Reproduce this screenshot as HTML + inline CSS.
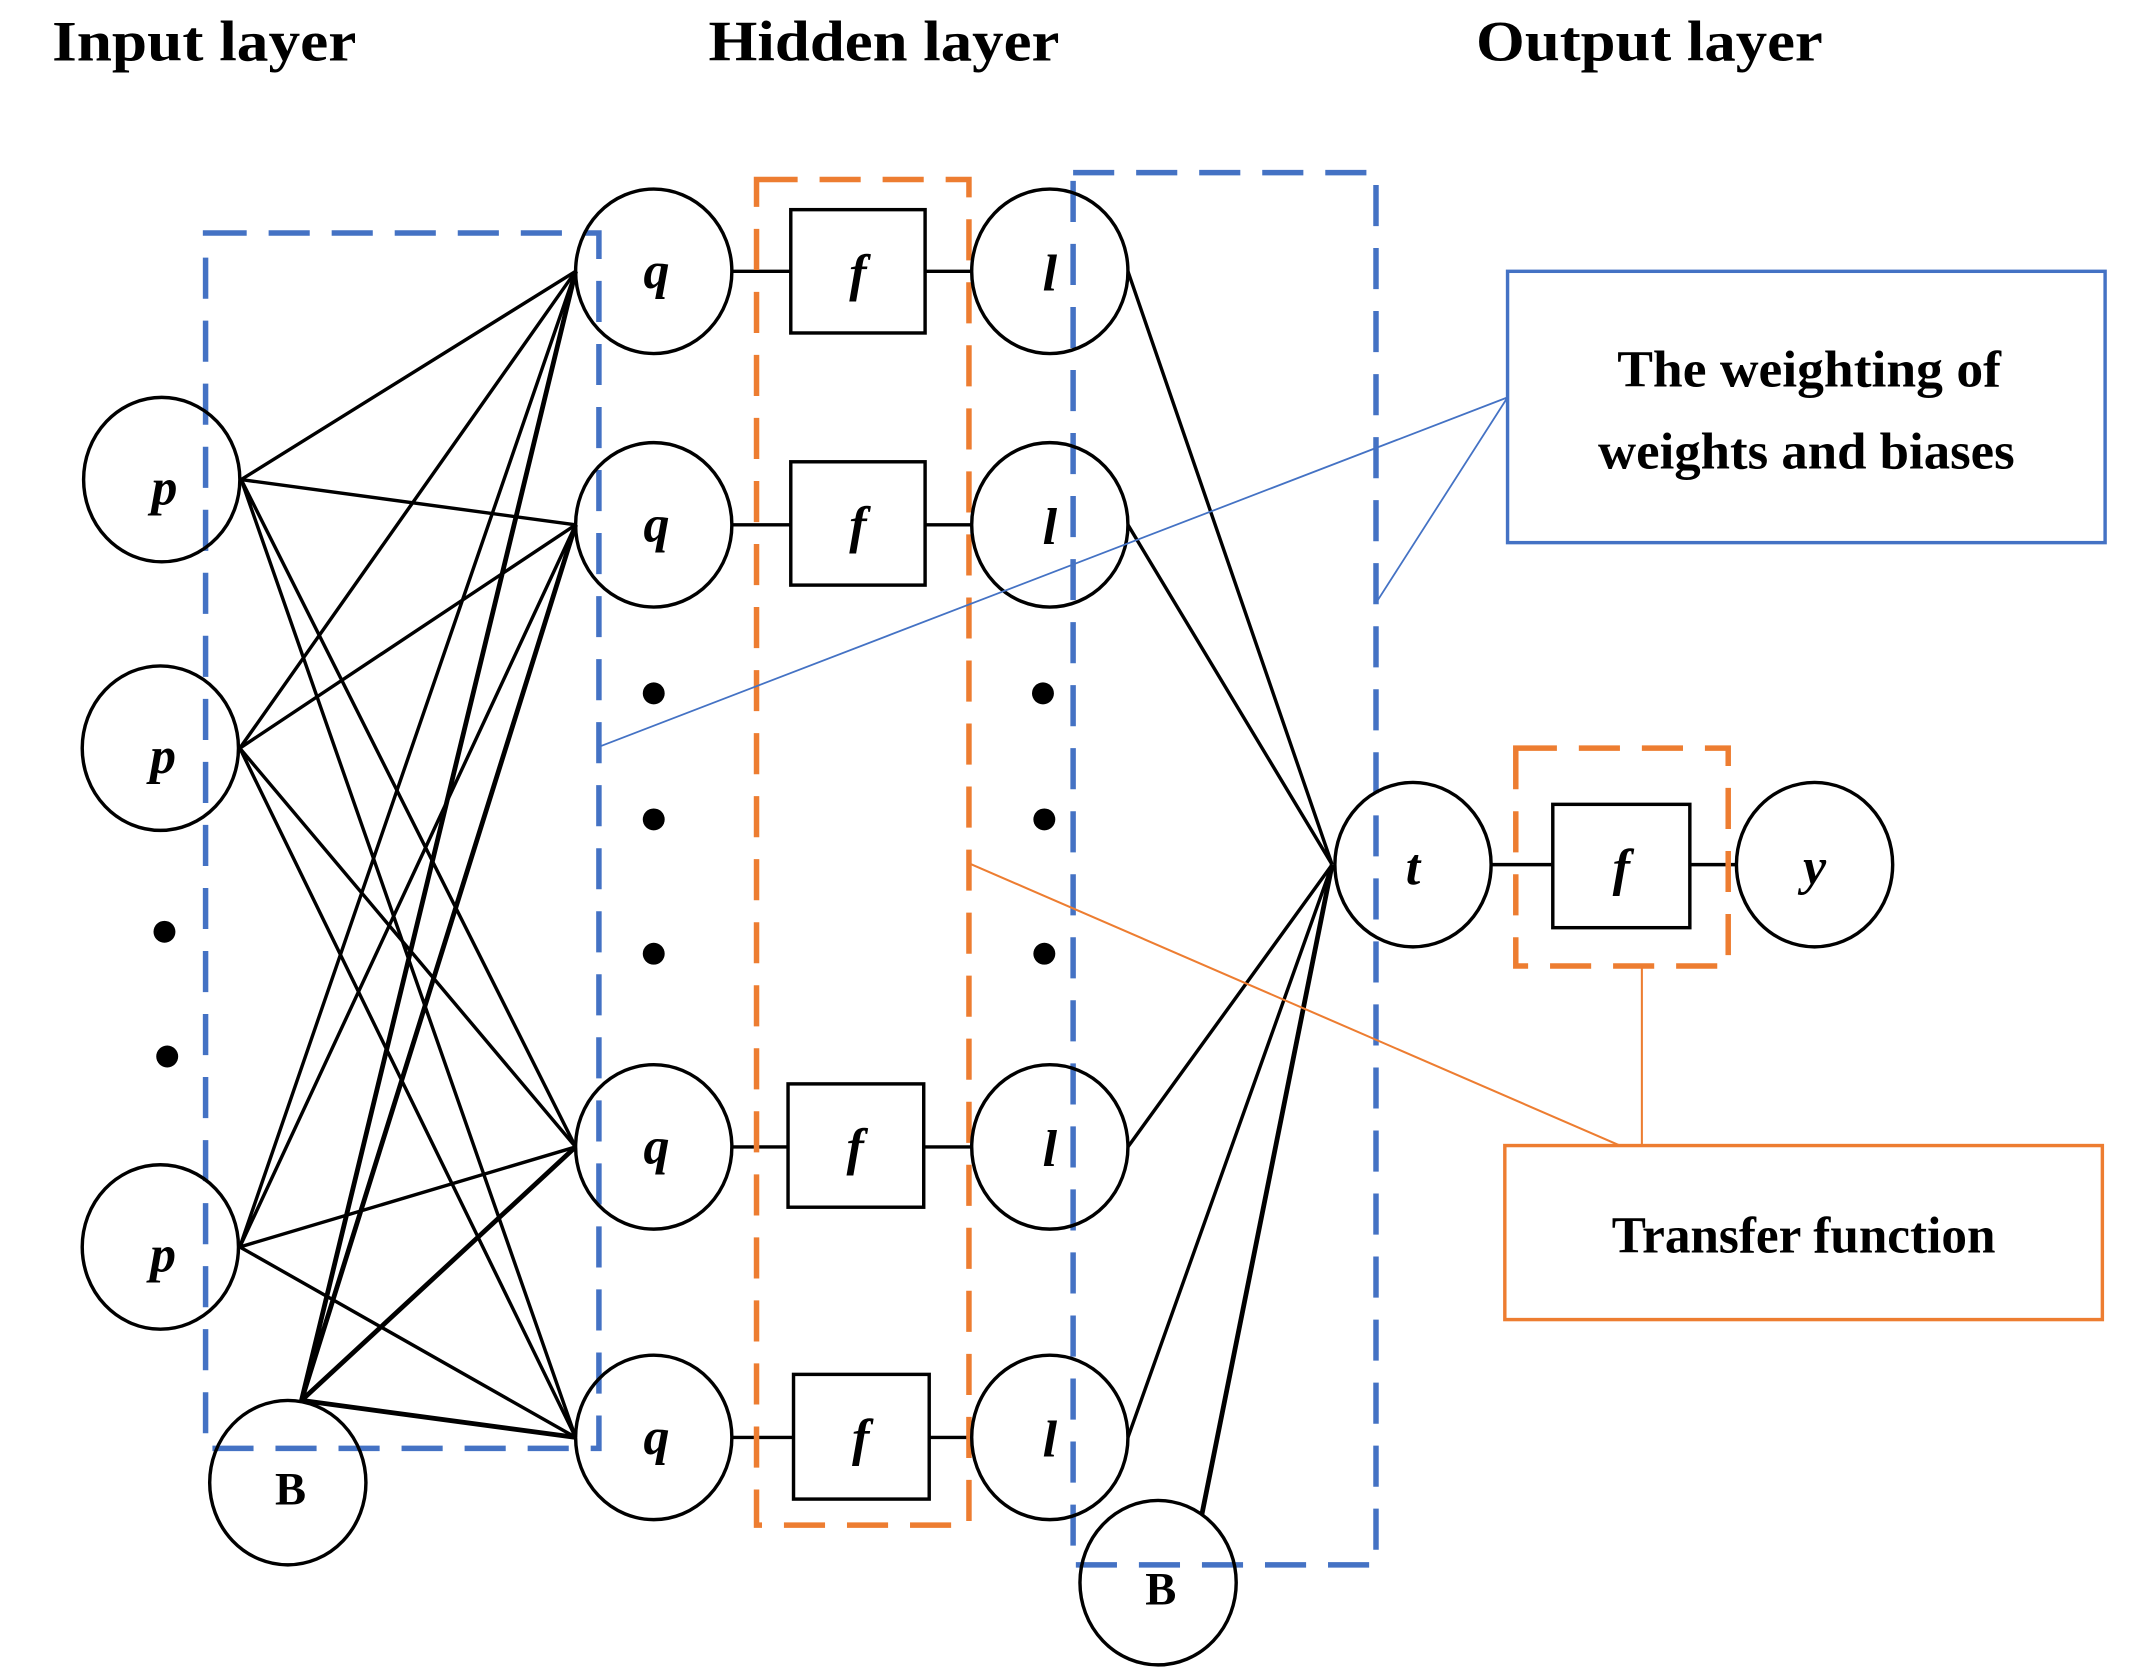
<!DOCTYPE html>
<html><head><meta charset="utf-8"><style>html,body{margin:0;padding:0;background:#fff}svg{display:block}</style></head>
<body>
<svg width="2138" height="1669" viewBox="0 0 1560 1218" preserveAspectRatio="none" xmlns="http://www.w3.org/2000/svg">
<g font-family="Liberation Serif, serif" font-weight="bold" font-size="42" fill="#000">
<text x="38" y="44" textLength="222" lengthAdjust="spacingAndGlyphs">Input layer</text>
<text x="517" y="44" textLength="256" lengthAdjust="spacingAndGlyphs">Hidden layer</text>
<text x="1077" y="44" textLength="253" lengthAdjust="spacingAndGlyphs">Output layer</text>
</g>
<g stroke="#000" stroke-width="2.5" fill="none">
<path d="M176 350L420 198M176 350L420 383M176 350L420 837M176 350L420 1049"/>
<path d="M175 546L420 198M175 546L420 383M175 546L420 837M175 546L420 1049"/>
<path d="M175 910L420 198M175 910L420 383M175 910L420 837M175 910L420 1049"/>
<path d="M823 198L972 631M823 383L972 631M823 837L972 631M823 1049L972 631"/>
<path d="M534 198H577M675 198H709M534 383H577M675 383H709M534 837H575M674 837H709M534 1049H579M678 1049H709"/>
<path d="M1088 631H1133M1233 631H1267"/>
</g>
<g stroke="#000" stroke-width="3.5" fill="none">
<path d="M220 1022L420 198M220 1022L420 383M220 1022L420 837M220 1022L420 1049"/>
<path d="M877 1105L972 631"/>
</g>
<g fill="none" stroke-width="4" stroke-dasharray="30 16">
<rect x="150" y="170" width="287" height="887" stroke="#4472c4"/>
<rect x="783" y="126" width="221" height="1016" stroke="#4472c4"/>
<rect x="552" y="131" width="155" height="982" stroke="#ed7d31"/>
<rect x="1106" y="546" width="155" height="159" stroke="#ed7d31"/>
</g>
<g fill="none" stroke="#000" stroke-width="2.5">
<ellipse cx="118" cy="350" rx="57" ry="60"/>
<ellipse cx="117" cy="546" rx="57" ry="60"/>
<ellipse cx="117" cy="910" rx="57" ry="60"/>
<ellipse cx="210" cy="1082" rx="57" ry="60"/>
<ellipse cx="477" cy="198" rx="57" ry="60"/>
<ellipse cx="477" cy="383" rx="57" ry="60"/>
<ellipse cx="477" cy="837" rx="57" ry="60"/>
<ellipse cx="477" cy="1049" rx="57" ry="60"/>
<ellipse cx="766" cy="198" rx="57" ry="60"/>
<ellipse cx="766" cy="383" rx="57" ry="60"/>
<ellipse cx="766" cy="837" rx="57" ry="60"/>
<ellipse cx="766" cy="1049" rx="57" ry="60"/>
<ellipse cx="1031" cy="631" rx="57" ry="60"/>
<ellipse cx="1324" cy="631" rx="57" ry="60"/>
<ellipse cx="845" cy="1155" rx="57" ry="60"/>
<rect x="577" y="153" width="98" height="90"/>
<rect x="577" y="337" width="98" height="90"/>
<rect x="575" y="791" width="99" height="90"/>
<rect x="579" y="1003" width="99" height="91"/>
<rect x="1133" y="587" width="100" height="90"/>
</g>
<g fill="#000">
<circle cx="120" cy="680" r="8"/><circle cx="122" cy="771" r="8"/>
<circle cx="477" cy="506" r="8"/><circle cx="477" cy="598" r="8"/><circle cx="477" cy="696" r="8"/>
<circle cx="761" cy="506" r="8"/><circle cx="762" cy="598" r="8"/><circle cx="762" cy="696" r="8"/>
</g>
<g font-family="Liberation Serif, serif" font-weight="bold" font-style="italic" font-size="38" fill="#000" text-anchor="middle">
<text x="120" y="368">p</text><text x="119" y="564">p</text><text x="119" y="928">p</text>
<text x="479" y="210">q</text><text x="479" y="395">q</text><text x="479" y="849">q</text><text x="479" y="1061">q</text>
<text x="626" y="212">f</text><text x="626" y="396">f</text><text x="624" y="850">f</text><text x="628" y="1062">f</text><text x="1183" y="646">f</text>
<text x="766" y="212">l</text><text x="766" y="397">l</text><text x="766" y="851">l</text><text x="766" y="1063">l</text>
<text x="1031" y="645">t</text><text x="1324" y="645">y</text>
</g>
<g font-family="Liberation Serif, serif" font-weight="bold" font-size="34" fill="#000" text-anchor="middle">
<text x="212" y="1098">B</text><text x="847" y="1171">B</text>
</g>
<rect x="1100" y="198" width="436" height="198" fill="none" stroke="#4472c4" stroke-width="2.5"/>
<rect x="1098" y="836" width="436" height="127" fill="none" stroke="#ed7d31" stroke-width="2.5"/>
<g stroke="#4472c4" stroke-width="1.3" fill="none"><path d="M1100 290L437 545M1100 290L1004 440"/></g>
<g stroke="#ed7d31" stroke-width="1.5" fill="none"><path d="M707 630L1182 836M1198 705V836"/></g>
<g font-family="Liberation Serif, serif" font-weight="bold" font-size="38" fill="#000">
<text x="1180" y="282" textLength="280" lengthAdjust="spacingAndGlyphs">The weighting of</text>
<text x="1166" y="342" textLength="304" lengthAdjust="spacingAndGlyphs">weights and biases</text>
<text x="1176" y="914" textLength="280" lengthAdjust="spacingAndGlyphs">Transfer function</text>
</g>
</svg>
</body></html>
